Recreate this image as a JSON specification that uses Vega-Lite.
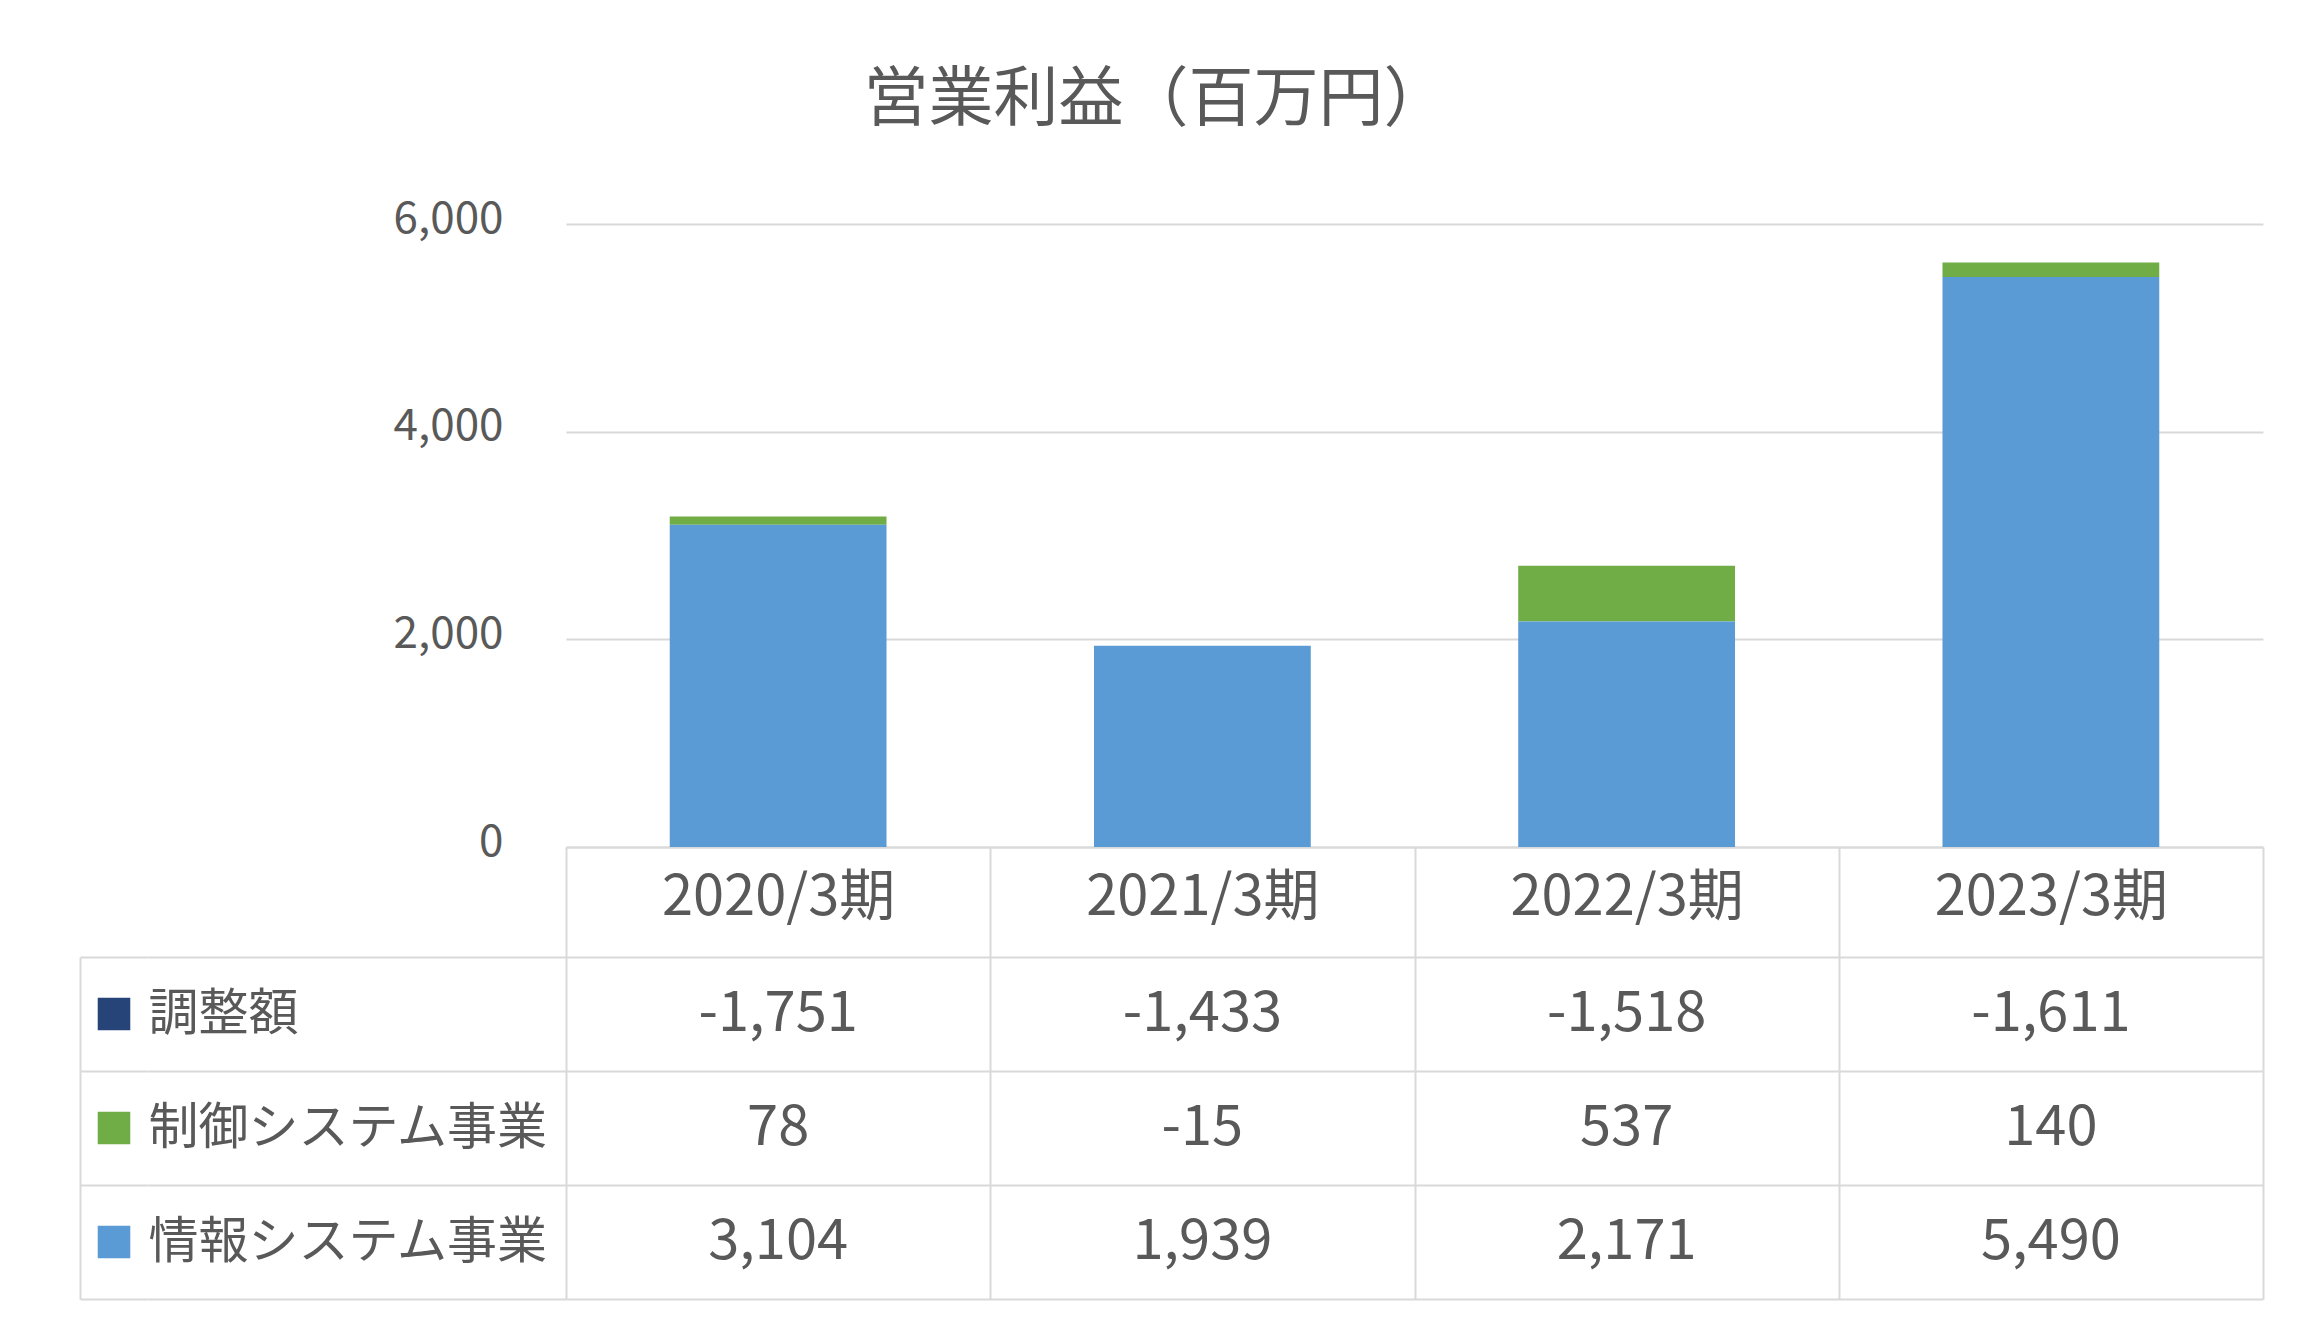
{
  "$schema": "https://vega.github.io/schema/vega-lite/v6.json",
  "padding": {"left": 80, "top": 68, "right": 20, "bottom": 20},
  "background": "white",
  "title": {"text": "営業利益（百万円）", "fontSize": 65, "fontWeight": "normal", "color": "#595959", "anchor": "middle", "offset": 63, "dx": -16},
  "datasets": {
    "profit": [
      {"period": "2020/3期", "series": "調整額", "value": -1751},
      {"period": "2020/3期", "series": "制御システム事業", "value": 78},
      {"period": "2020/3期", "series": "情報システム事業", "value": 3104},
      {"period": "2021/3期", "series": "調整額", "value": -1433},
      {"period": "2021/3期", "series": "制御システム事業", "value": -15},
      {"period": "2021/3期", "series": "情報システム事業", "value": 1939},
      {"period": "2022/3期", "series": "調整額", "value": -1518},
      {"period": "2022/3期", "series": "制御システム事業", "value": 537},
      {"period": "2022/3期", "series": "情報システム事業", "value": 2171},
      {"period": "2023/3期", "series": "調整額", "value": -1611},
      {"period": "2023/3期", "series": "制御システム事業", "value": 140},
      {"period": "2023/3期", "series": "情報システム事業", "value": 5490}
    ],
    "seriesList": [
      {"series": "調整額"},
      {"series": "制御システム事業"},
      {"series": "情報システム事業"}
    ]
  },
  "columns": 3,
  "bounds": "flush",
  "spacing": {"row": 110, "column": 0},
  "concat": [
    {"width": 68, "height": 623, "data": {"values": []}, "mark": {"type": "text", "text": ""}},
    {"width": 418, "height": 623, "data": {"values": []}, "mark": {"type": "text", "text": ""}},
    {
      "width": 1697,
      "height": 623,
      "data": {"name": "profit"},
      "mark": {"type": "bar", "clip": true, "width": {"band": 0.511}},
      "encoding": {
        "x": {
          "field": "period", "type": "nominal",
          "scale": {"domain": ["2020/3期", "2021/3期", "2022/3期", "2023/3期"], "paddingInner": 0, "paddingOuter": 0},
          "axis": {"title": null, "orient": "bottom", "tickBand": "extent", "ticks": true, "tickSize": 110, "tickColor": "#D9D9D9", "tickWidth": 2,
                   "domain": true, "domainColor": "#D9D9D9", "domainWidth": 2, "grid": false,
                   "labelAngle": 0, "labelFontSize": 56, "labelColor": "#595959", "labelPadding": -60, "labelBaseline": "middle", "labelLimit": 0}
        },
        "y": {
          "field": "value", "type": "quantitative", "stack": "zero",
          "scale": {"domain": [0, 6000], "nice": false},
          "axis": {"title": null, "values": [0, 2000, 4000, 6000], "labelExpr": "format(datum.value, ',')", "labelFontSize": 44, "labelColor": "#595959", "labelPadding": 63, "labelOffset": -5,
                   "ticks": false, "domain": false, "grid": true, "gridColor": "#D9D9D9", "gridWidth": 2}
        },
        "color": {
          "field": "series", "type": "nominal",
          "scale": {"domain": ["調整額", "制御システム事業", "情報システム事業"], "range": ["#264478", "#70AD47", "#5B9BD5"]},
          "legend": null
        },
        "order": {"field": "series", "sort": "descending"}
      }
    },
    {
      "width": 68,
      "height": 342,
      "data": {"name": "seriesList"},
      "mark": {"type": "point", "shape": "square", "filled": true, "size": 1060, "opacity": 1},
      "encoding": {
        "y": {
          "field": "series", "type": "nominal",
          "scale": {"domain": ["調整額", "制御システム事業", "情報システム事業"], "paddingInner": 0, "paddingOuter": 0},
          "axis": {"title": null, "labels": false, "ticks": false, "domain": true, "domainColor": "#D9D9D9", "domainWidth": 2,
                   "grid": true, "tickBand": "extent", "gridColor": "#D9D9D9", "gridWidth": 2}
        },
        "color": {
          "field": "series", "type": "nominal",
          "scale": {"domain": ["調整額", "制御システム事業", "情報システム事業"], "range": ["#264478", "#70AD47", "#5B9BD5"]},
          "legend": null
        }
      }
    },
    {
      "width": 418,
      "height": 342,
      "data": {"name": "seriesList"},
      "mark": {"type": "text", "text": ""},
      "encoding": {
        "y": {
          "field": "series", "type": "nominal",
          "scale": {"domain": ["調整額", "制御システム事業", "情報システム事業"], "paddingInner": 0, "paddingOuter": 0},
          "axis": {"title": null, "labels": true, "labelAlign": "left", "labelPadding": 0, "labelFontSize": 50, "labelColor": "#595959", "labelBaseline": "middle", "labelLimit": 0,
                   "ticks": false, "domain": false, "grid": true, "tickBand": "extent", "gridColor": "#D9D9D9", "gridWidth": 2}
        }
      }
    },
    {
      "width": 1697,
      "height": 342,
      "data": {"name": "profit"},
      "mark": {"type": "text", "fontSize": 56, "color": "#595959", "baseline": "middle"},
      "encoding": {
        "x": {
          "field": "period", "type": "nominal",
          "scale": {"domain": ["2020/3期", "2021/3期", "2022/3期", "2023/3期"], "paddingInner": 0, "paddingOuter": 0},
          "axis": {"title": null, "orient": "top", "labels": false, "ticks": false, "domain": false, "grid": true, "tickBand": "extent", "gridColor": "#D9D9D9", "gridWidth": 2}
        },
        "y": {
          "field": "series", "type": "nominal",
          "scale": {"domain": ["調整額", "制御システム事業", "情報システム事業"], "paddingInner": 0, "paddingOuter": 0},
          "axis": {"title": null, "labels": false, "ticks": false, "domain": false, "grid": true, "tickBand": "extent", "gridColor": "#D9D9D9", "gridWidth": 2}
        },
        "text": {"field": "value", "type": "quantitative", "format": ","}
      }
    }
  ],
  "config": {
    "font": "Noto Sans CJK JP",
    "view": {"stroke": null},
    "locale": {"number": {"decimal": ".", "thousands": ",", "grouping": [3], "currency": ["", ""], "minus": "-"}}
  }
}
